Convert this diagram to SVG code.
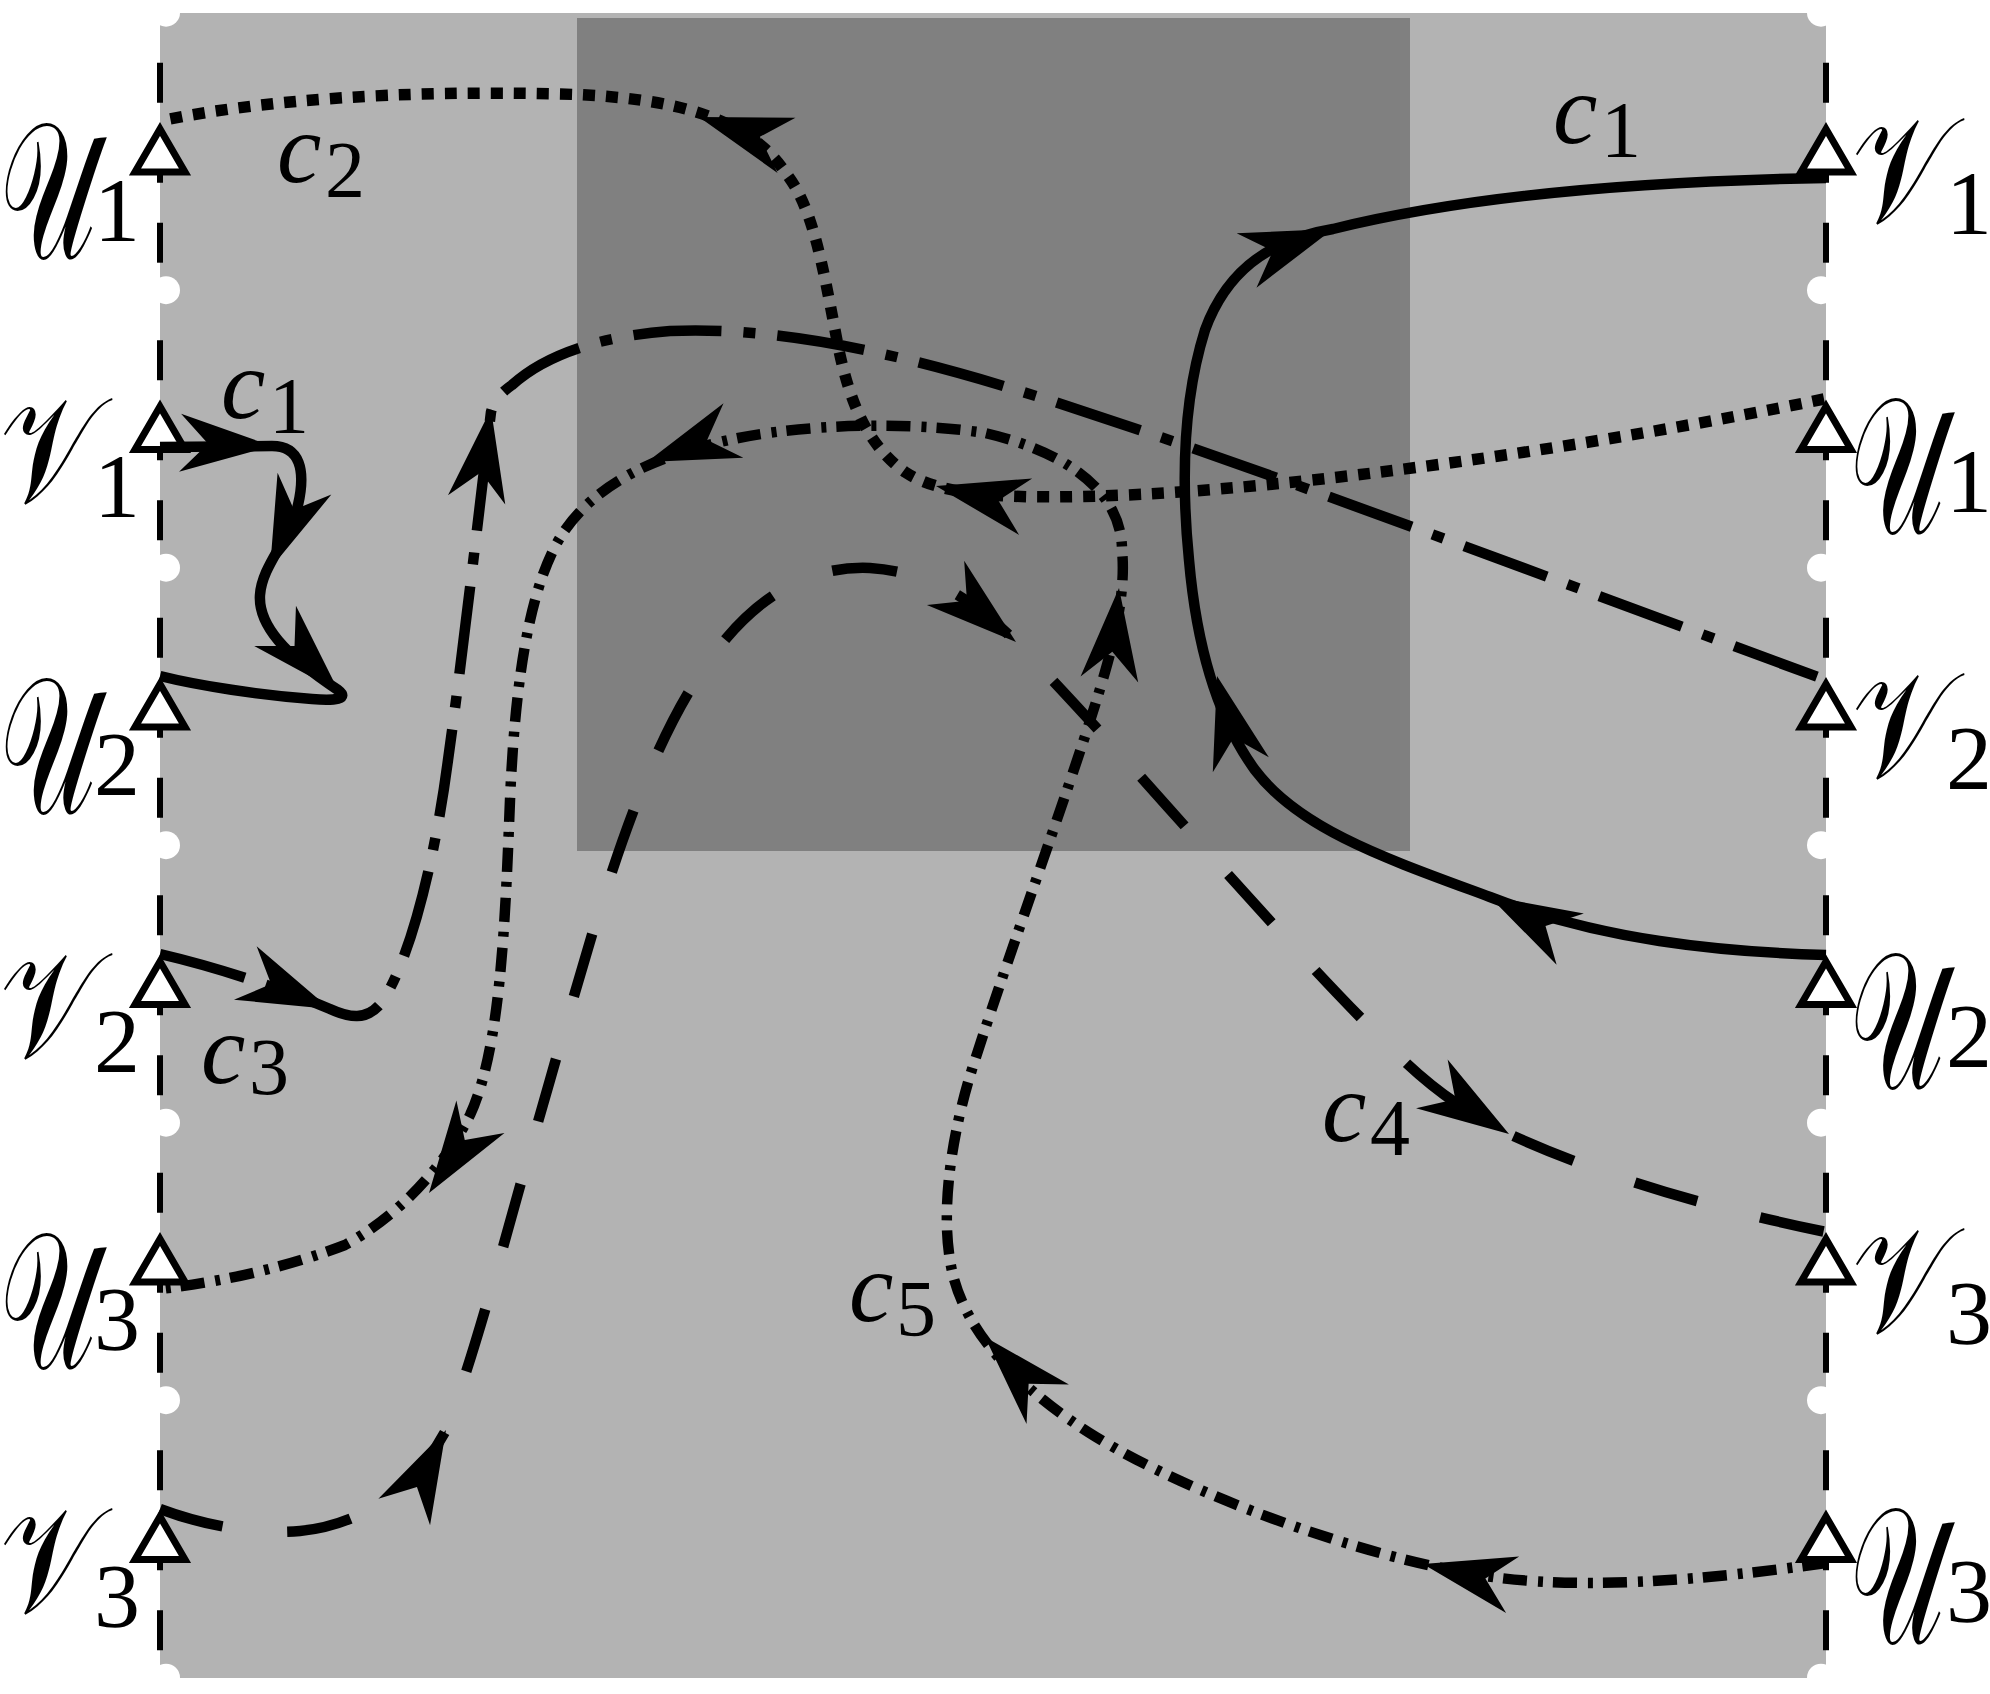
<svg xmlns="http://www.w3.org/2000/svg" xmlns:xlink="http://www.w3.org/1999/xlink" width="1990" height="1694" viewBox="0 0 1990 1694">
<style>
.bg{fill:#b3b3b3}
.dk{fill:#808080}
.notch{fill:#ffffff}
.bd{stroke:#000;stroke-width:6;stroke-dasharray:40 40;fill:none}
.tri{fill:#fff;stroke:#000;stroke-width:7;stroke-linejoin:miter}
.cv{fill:none;stroke:#000;stroke-width:10.5;stroke-linecap:butt;stroke-linejoin:round}
.dot{stroke-width:11.5;stroke-dasharray:12 11}
.dl{stroke-dasharray:88 22 12 22}
.ds{stroke-dasharray:65 65}
.dds{stroke-dasharray:24 10 5 11}
.ah{fill:#000}
.pu{font-family:"DejaVu Serif","DejaVu Sans",serif;font-size:194px;fill:#000}
.pv{font-family:"DejaVu Serif","DejaVu Sans",serif;font-size:150px;fill:#000}
.ps{font-family:"Liberation Serif",serif;font-size:92px;fill:#000}
.cl{font-family:"Liberation Serif",serif;font-style:italic;font-size:100px;fill:#000}
.cs{font-family:"Liberation Serif",serif;font-style:normal;font-size:80px}
</style>
<defs>
<path id="ah" d="M0 0 L-92 -29 L-64 0 L-92 29 Z"/>
<path id="tri" d="M0 7 L25 50 L-25 50 Z"/>
</defs>
<g id="background">
<rect class="bg" x="160" y="13" width="1666" height="1665"/>
<rect class="dk" x="577" y="18" width="833" height="833"/>
<circle class="notch" cx="166" cy="12.7" r="14"/><circle class="notch" cx="166" cy="290.2" r="14"/><circle class="notch" cx="166" cy="567.7" r="14"/><circle class="notch" cx="166" cy="845.2" r="14"/><circle class="notch" cx="166" cy="1122.7" r="14"/><circle class="notch" cx="166" cy="1400.2" r="14"/><circle class="notch" cx="166" cy="1677.7" r="14"/>
<circle class="notch" cx="1821" cy="12.7" r="14"/><circle class="notch" cx="1821" cy="290.2" r="14"/><circle class="notch" cx="1821" cy="567.7" r="14"/><circle class="notch" cx="1821" cy="845.2" r="14"/><circle class="notch" cx="1821" cy="1122.7" r="14"/><circle class="notch" cx="1821" cy="1400.2" r="14"/><circle class="notch" cx="1821" cy="1677.7" r="14"/>
</g>
<g id="borders">
<line class="bd" x1="160" y1="62.7" x2="160" y2="262.7"/><line class="bd" x1="160" y1="340.2" x2="160" y2="540.2"/><line class="bd" x1="160" y1="617.7" x2="160" y2="817.7"/><line class="bd" x1="160" y1="895.2" x2="160" y2="1095.2"/><line class="bd" x1="160" y1="1172.7" x2="160" y2="1372.7"/><line class="bd" x1="160" y1="1450.2" x2="160" y2="1650.2"/>
<line class="bd" x1="1826" y1="62.7" x2="1826" y2="262.7"/><line class="bd" x1="1826" y1="340.2" x2="1826" y2="540.2"/><line class="bd" x1="1826" y1="617.7" x2="1826" y2="817.7"/><line class="bd" x1="1826" y1="895.2" x2="1826" y2="1095.2"/><line class="bd" x1="1826" y1="1172.7" x2="1826" y2="1372.7"/><line class="bd" x1="1826" y1="1450.2" x2="1826" y2="1650.2"/>
</g>
<g id="ports-left">
<g id="U1L"><use xlink:href="#tri" class="tri" transform="translate(160 122)"/><text class="pu" transform="translate(0 258) scale(0.55 1)">𝒰</text><text class="ps" x="94" y="241">1</text></g>
<g id="V1L"><use xlink:href="#tri" class="tri" transform="translate(160 399.5)"/><text class="pv" transform="translate(0 502) scale(0.78 1)">𝒱</text><text class="ps" x="94" y="517">1</text></g>
<g id="U2L"><use xlink:href="#tri" class="tri" transform="translate(160 677)"/><text class="pu" transform="translate(0 813) scale(0.55 1)">𝒰</text><text class="ps" x="94" y="795">2</text></g>
<g id="V2L"><use xlink:href="#tri" class="tri" transform="translate(160 954.5)"/><text class="pv" transform="translate(0 1057) scale(0.78 1)">𝒱</text><text class="ps" x="94" y="1072">2</text></g>
<g id="U3L"><use xlink:href="#tri" class="tri" transform="translate(160 1232)"/><text class="pu" transform="translate(0 1368) scale(0.55 1)">𝒰</text><text class="ps" x="94" y="1350">3</text></g>
<g id="V3L"><use xlink:href="#tri" class="tri" transform="translate(160 1509.5)"/><text class="pv" transform="translate(0 1612) scale(0.78 1)">𝒱</text><text class="ps" x="94" y="1627">3</text></g>
</g>
<g id="ports-right">
<g id="V1R"><use xlink:href="#tri" class="tri" transform="translate(1826 122)"/><text class="pv" transform="translate(1852 222) scale(0.78 1)">𝒱</text><text class="ps" x="1946" y="234">1</text></g>
<g id="U1R"><use xlink:href="#tri" class="tri" transform="translate(1826 399.5)"/><text class="pu" transform="translate(1850 533) scale(0.54 1)">𝒰</text><text class="ps" x="1946" y="512">1</text></g>
<g id="V2R"><use xlink:href="#tri" class="tri" transform="translate(1826 677)"/><text class="pv" transform="translate(1852 777) scale(0.78 1)">𝒱</text><text class="ps" x="1946" y="789">2</text></g>
<g id="U2R"><use xlink:href="#tri" class="tri" transform="translate(1826 954.5)"/><text class="pu" transform="translate(1850 1088) scale(0.54 1)">𝒰</text><text class="ps" x="1946" y="1067">2</text></g>
<g id="V3R"><use xlink:href="#tri" class="tri" transform="translate(1826 1232)"/><text class="pv" transform="translate(1852 1332) scale(0.78 1)">𝒱</text><text class="ps" x="1946" y="1344">3</text></g>
<g id="U3R"><use xlink:href="#tri" class="tri" transform="translate(1826 1509.5)"/><text class="pu" transform="translate(1850 1643) scale(0.54 1)">𝒰</text><text class="ps" x="1946" y="1622">3</text></g>
</g>
<g id="connectors">
<path id="c1a" class="cv" d="M160 447 L272 446 C300 446 306 470 298 505 C290 540 262 565 260 595 C258 625 285 655 338 690 C350 699 335 701 312 699 C260 695 200 686 160 676"/>
<path id="c1b" class="cv" d="M1826 955 C1720 952 1600 940 1490 897 C1390 860 1300 830 1255 770 C1215 715 1196 640 1189 560 C1181 480 1183 400 1205 330 C1225 275 1265 240 1333 229 C1470 195 1650 181 1826 178"/>
<path id="c2" class="cv dot" d="M1824 399 C1600 445 1300 490 1100 496 C1000 499 940 495 905 472 C860 440 845 385 835 330 C822 262 812 205 785 172 C750 120 680 97 560 94 C400 90 260 100 160 121"/>
<path id="c3" class="cv dl" d="M160 954 C220 968 285 990 330 1009 C352 1019 368 1020 382 1002 C410 960 435 860 448 760 C462 660 478 520 491 412 C494 400 502 392 512 385 C545 355 600 336 670 331 C780 326 900 355 1000 385 C1200 445 1500 560 1826 680"/>
<path id="c4" class="cv ds" d="M160 1509 C200 1524 250 1535 300 1531 C370 1524 420 1480 446 1430 C480 1340 515 1200 550 1080 C590 940 630 790 690 690 C740 605 800 565 870 568 C930 572 975 600 1016 642 C1140 770 1280 940 1392 1049 C1430 1088 1470 1115 1509 1134 C1610 1180 1720 1210 1826 1232"/>
<path id="c5" class="cv dds" d="M1826 1563 C1720 1578 1600 1590 1500 1578 C1380 1563 1200 1500 1096 1437 C1020 1390 960 1330 950 1260 C940 1200 955 1120 975 1060 C1010 950 1080 760 1105 672 C1120 620 1125 580 1122 550 C1122 500 1080 455 985 433 C900 420 790 425 720 442 C660 456 600 480 565 530 C530 580 515 680 510 800 C505 930 500 1050 470 1115 C445 1165 400 1215 345 1245 C285 1268 220 1282 160 1289"/>
<g id="arrowheads" class="ah">
<use xlink:href="#ah" transform="translate(272 446) rotate(2)"/>
<use xlink:href="#ah" transform="translate(270 569) rotate(112)"/>
<use xlink:href="#ah" transform="translate(339 692) rotate(46)"/>
<use xlink:href="#ah" transform="translate(1489 896) rotate(-152)"/>
<use xlink:href="#ah" transform="translate(1217 676) rotate(-105)"/>
<use xlink:href="#ah" transform="translate(1333 229) rotate(-20)"/>
<use xlink:href="#ah" transform="translate(699 117) rotate(-162)"/>
<use xlink:href="#ah" transform="translate(936 486) rotate(-167)"/>
<use xlink:href="#ah" transform="translate(330 1009) rotate(23)"/>
<use xlink:href="#ah" transform="translate(491 409) rotate(-81)"/>
<use xlink:href="#ah" transform="translate(446 1430) rotate(-63)"/>
<use xlink:href="#ah" transform="translate(1016 642) rotate(40)"/>
<use xlink:href="#ah" transform="translate(1509 1134) rotate(33)"/>
<use xlink:href="#ah" transform="translate(1423 1564) rotate(-167)"/>
<use xlink:href="#ah" transform="translate(985 1337) rotate(-133)"/>
<use xlink:href="#ah" transform="translate(1119 588) rotate(-84)"/>
<use xlink:href="#ah" transform="translate(647 462) rotate(160)"/>
<use xlink:href="#ah" transform="translate(429 1193) rotate(124)"/>
</g>
</g>
<g id="curve-labels">
<text class="cl" x="277" y="182">c<tspan class="cs" x="325" y="197">2</tspan></text>
<text class="cl" x="221" y="418">c<tspan class="cs" x="269" y="433">1</tspan></text>
<text class="cl" x="1553" y="143">c<tspan class="cs" x="1601" y="157">1</tspan></text>
<text class="cl" x="201" y="1083">c<tspan class="cs" x="249" y="1094">3</tspan></text>
<text class="cl" x="1322" y="1141">c<tspan class="cs" x="1370" y="1155">4</tspan></text>
<text class="cl" x="849" y="1321">c<tspan class="cs" x="896" y="1336">5</tspan></text>
</g>
</svg>
